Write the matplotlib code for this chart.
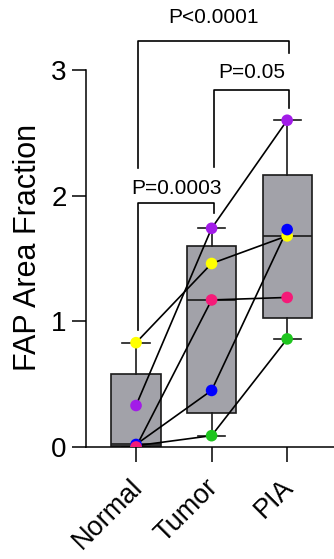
import numpy as np
import matplotlib
matplotlib.use("Agg")
import matplotlib.pyplot as plt
from matplotlib.transforms import ScaledTranslation

plt.rcParams['font.family'] = ['Liberation Sans', 'DejaVu Sans']

groups = ['Normal', 'Tumor', 'PIA']
# one value per subject, per group
subjects = ['green', 'purple', 'yellow', 'blue', 'pink']
dot_colors = {'green': '#1fc51f', 'purple': '#a21ce8', 'yellow': '#ffff00',
              'blue': '#0000ff', 'pink': '#f51a78'}
values = {
    'green':  [0.01, 0.09, 0.86],
    'purple': [0.33, 1.74, 2.60],
    'yellow': [0.83, 1.46, 1.68],
    'blue':   [0.02, 0.45, 1.73],
    'pink':   [0.00, 1.17, 1.19],
}
# comparisons: (group a, group b, label)
comparisons = [(0, 1, 'P=0.0003'), (1, 2, 'P=0.05'), (0, 2, 'P<0.0001')]

fig = plt.figure(figsize=(3.34, 5.59), dpi=100)
ax = fig.add_axes([0.2575, 0.2004, 0.7425, 0.6744])

pos = np.arange(1, len(groups) + 1)
data = np.array([values[s] for s in subjects])

# box stats, prism style quartiles
stats = []
for j in range(len(groups)):
    col = data[:, j]
    q1, med, q3 = np.percentile(col, [25, 50, 75], method='weibull')
    stats.append(dict(med=med, q1=q1, q3=q3, whislo=col.min(), whishi=col.max(),
                      fliers=[]))

lw = 1.2
ax.bxp(stats, positions=pos, widths=0.65, capwidths=0.36, patch_artist=True,
       showfliers=False,
       boxprops=dict(facecolor='#a2a2a9', edgecolor='#1a1a1a', linewidth=lw),
       medianprops=dict(color='#1a1a1a', linewidth=lw),
       whiskerprops=dict(color='#1a1a1a', linewidth=lw),
       capprops=dict(color='#1a1a1a', linewidth=lw))

for s in subjects:
    ax.plot(pos, values[s], color='black', lw=1.2, zorder=4)
for s in subjects:
    ax.scatter(pos, values[s], s=70, color=dot_colors[s], edgecolors='none',
               zorder=5)

# significance brackets (layout in data units)
brackets = {
    (0, 1): dict(h=1.94, la=0.93, lb=1.86, ty=2.06),
    (1, 2): dict(h=2.84, la=2.23, lb=2.70, ty=2.98),
    (0, 2): dict(h=3.23, la=2.22, lb=3.135, ty=3.42),
}
for a, b, lab in comparisons:
    bk = brackets[(a, b)]
    xa, xb = pos[a] + 0.03, pos[b] + 0.03
    ax.plot([xa, xa, xb, xb], [bk['la'], bk['h'], bk['h'], bk['lb']],
            color='black', lw=1.2, clip_on=False)
    ax.text((xa + xb) / 2, bk['ty'], lab, ha='center', va='center',
            fontsize=15)

ax.set_xlim(0.338, 3.62)
ax.set_ylim(0, 3)
ax.set_yticks([0, 1, 2, 3])
ax.set_xticks(pos)
ax.set_xticklabels([])
# rotated group labels, placed under each tick
off = ScaledTranslation(-7 / 100, -27 / 100, fig.dpi_scale_trans)
for p, g in zip(pos, groups):
    ax.text(p, 0, g, transform=ax.get_xaxis_transform() + off,
            rotation=45, ha='right', va='top', rotation_mode='anchor',
            fontsize=19.5)
ax.tick_params(axis='y', labelsize=20, length=10, width=1.1, pad=4)
ax.tick_params(axis='x', length=10.5, width=1.1)
ax.spines['top'].set_visible(False)
ax.spines['right'].set_visible(False)
for sp in ['left', 'bottom']:
    ax.spines[sp].set_linewidth(1.1)
ax.set_ylabel('FAP Area Fraction', fontsize=22)
ax.yaxis.set_label_coords(-0.175, 0.53)

fig.savefig('out.png', dpi=100)
